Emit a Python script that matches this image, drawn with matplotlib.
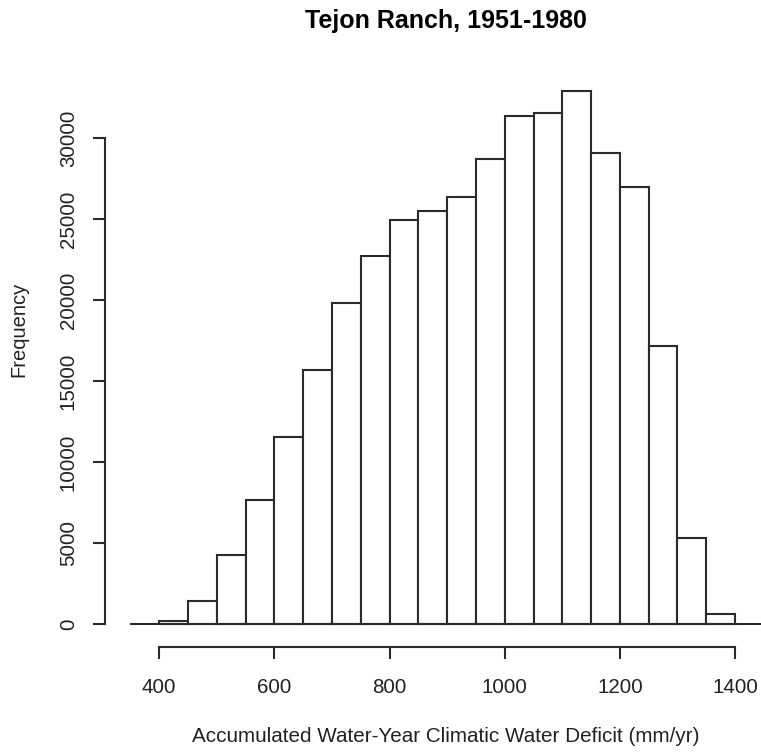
import matplotlib
matplotlib.use("Agg")
import matplotlib.pyplot as plt

plt.rcParams['font.family'] = ['Liberation Sans', 'DejaVu Sans']

# histogram of CWD values, 50 mm/yr bins
bin_edges = [400, 450, 500, 550, 600, 650, 700, 750, 800, 850, 900,
             950, 1000, 1050, 1100, 1150, 1200, 1250, 1300, 1350, 1400]
counts = [190, 1420, 4260, 7650, 11540, 15700, 19830, 22740, 24910, 25490,
          26380, 28720, 31330, 31560, 32870, 29050, 26970, 17140, 5310, 620]

x_ticks = [400, 600, 800, 1000, 1200, 1400]
y_ticks = [0, 5000, 10000, 15000, 20000, 25000, 30000]

title = 'Tejon Ranch, 1951-1980'
xlabel = 'Accumulated Water-Year Climatic Water Deficit (mm/yr)'
ylabel = 'Frequency'

line_col = '#2b2b2b'

fig = plt.figure(figsize=(7.61, 7.55), dpi=100)
ax = fig.add_axes([105 / 761, 108 / 755, 656 / 761, 576 / 755])

lefts = bin_edges[:-1]
widths = [b - a for a, b in zip(bin_edges[:-1], bin_edges[1:])]
ax.bar(lefts, counts, width=widths, align='edge', facecolor='white',
       edgecolor=line_col, linewidth=1.5)
ax.hlines(0, 350, 1450, color=line_col, linewidth=1.5)

ax.set_xlim(306, 1445)
ax.set_ylim(-1420, 34130)

for s in ['top', 'right']:
    ax.spines[s].set_visible(False)
ax.spines['left'].set_bounds(0, 30000)
ax.spines['bottom'].set_bounds(400, 1400)
for s in ['left', 'bottom']:
    ax.spines[s].set_color(line_col)
    ax.spines[s].set_linewidth(1.5)

ax.set_xticks(x_ticks)
ax.set_xticklabels([str(v) for v in x_ticks])
ax.set_yticks(y_ticks)
ax.set_yticklabels([str(v) for v in y_ticks], rotation=90, va='center')
ax.tick_params(axis='both', length=8.5, width=1.5, color=line_col,
               labelsize=14.8, labelcolor='#222222')
ax.tick_params(axis='x', pad=14)
ax.tick_params(axis='y', pad=11)

ax.set_xlabel(xlabel, fontsize=14.9, color='#222222', va='center')
ax.xaxis.set_label_coords((446 - 105) / 656, (647 - 737) / 576)
ax.set_ylabel(ylabel, fontsize=14.5, color='#222222', va='center')
ax.yaxis.set_label_coords((19 - 105) / 656, (647 - 329) / 576)

fig.text(446 / 761, 1 - 21 / 755, title, ha='center', va='center',
         fontsize=18, fontweight='bold', color='black')

fig.savefig('out.png', dpi=100)
